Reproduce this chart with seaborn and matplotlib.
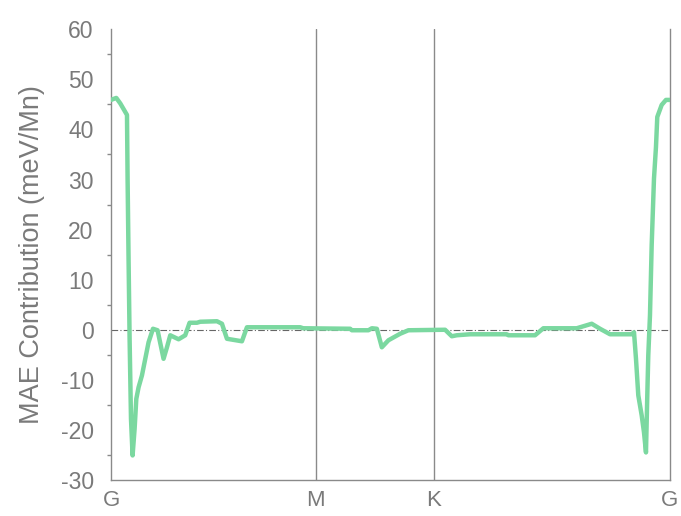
import matplotlib
matplotlib.use("Agg")
import matplotlib.pyplot as plt
import seaborn as sns
import pandas as pd
import numpy as np

# k-path coordinates (G-M-K-G, hexagonal BZ, units of 2pi/a)
kpath = [0.0, 0.0149, 0.0262, 0.0451, 0.0468, 0.0496, 0.0525, 0.0564, 0.0609, 0.0666,
         0.0714, 0.0778, 0.0874, 0.0967, 0.1060, 0.1185, 0.1314, 0.1483, 0.1579, 0.1672,
         0.1907, 0.2095, 0.2217, 0.2425, 0.2519, 0.2990, 0.3131, 0.3272, 0.3695, 0.3836,
         0.5339, 0.5423, 0.6749, 0.6797, 0.7265, 0.7361, 0.7502, 0.7643, 0.7829, 0.8159,
         0.8393, 0.9428, 0.9617, 0.9758, 1.0133, 1.1168, 1.1213, 1.1967, 1.2201, 1.3143,
         1.3566, 1.3800, 1.4082, 1.4694, 1.4759, 1.4815, 1.4880, 1.4976, 1.5041, 1.5097,
         1.5134, 1.5162, 1.5210, 1.5258, 1.5323, 1.5379, 1.5416, 1.5540, 1.5661, 1.5774]
mae = [45.9, 46.3, 45.2, 42.9, 30.2, 13.9, -1.8, -17.8, -25.1, -19.8,
       -13.8, -11.5, -9.1, -5.8, -2.5, 0.2, -0.1, -5.8, -3.5, -1.1,
       -1.9, -1.1, 1.4, 1.4, 1.6, 1.7, 1.2, -1.8, -2.3, 0.5,
       0.5, 0.3, 0.2, -0.1, -0.1, 0.3, 0.2, -3.5, -2.1, -0.8,
       -0.1, 0.0, -1.3, -1.1, -0.9, -0.9, -1.1, -1.1, 0.3, 0.3,
       1.2, 0.2, -0.9, -0.9, -0.5, -5.8, -13.1, -17.1, -20.5, -24.5,
       -13.1, -5.1, 2.9, 16.9, 30.2, 36.5, 42.5, 44.9, 45.9, 45.9]

hs_pos = [0.0, 0.5774, 0.9107, 1.5774]
hs_labels = ["G", "M", "K", "G"]
yticks = [-30, -20, -10, 0, 10, 20, 30, 40, 50, 60]

df = pd.DataFrame({"k": kpath, "mae": mae})

sns.set_style("white")
plt.rcParams["font.family"] = ["Liberation Sans", "DejaVu Sans"]
plt.rcParams["axes.unicode_minus"] = False

fig = plt.figure(figsize=(6.81, 5.16), dpi=100)
ax = fig.add_axes([0.1630, 0.0698, 0.8208, 0.8734])

gray = "#8a8a8a"
txt = "#7a7a7a"

ax.axhline(0, color="#666666", lw=0.8, ls=(0, (6, 2, 1, 2)), zorder=1)
for p in hs_pos[1:3]:
    ax.axvline(p, color=gray, lw=1.0, zorder=1)

sns.lineplot(data=df, x="k", y="mae", sort=False, estimator=None, ax=ax,
             color="#7bd8a0", lw=3.2, zorder=3)

ax.set_xlim(0, 1.5774)
ax.set_ylim(-30, 60)
ax.set_xticks(hs_pos)
ax.set_xticklabels(hs_labels)
ax.set_yticks(yticks)
ax.set_yticks(np.arange(-25, 60, 10), minor=True)

ax.set_xlabel("")
ax.set_ylabel("MAE Contribution (meV/Mn)", fontsize=19.5, color=txt, labelpad=11)

for s in ["left", "bottom", "right"]:
    ax.spines[s].set_color(gray)
    ax.spines[s].set_linewidth(1.0)
ax.spines["top"].set_visible(False)

ax.tick_params(axis="both", which="major", direction="inout", length=11, width=1,
               color=gray, labelcolor=txt, labelsize=16.5)
ax.tick_params(axis="y", which="major", pad=7)
ax.tick_params(axis="y", which="minor", direction="out", length=3, width=1, color=gray, left=True)
ax.tick_params(axis="x", which="major", pad=2, labelsize=16)

fig.savefig("out.png", dpi=100)
